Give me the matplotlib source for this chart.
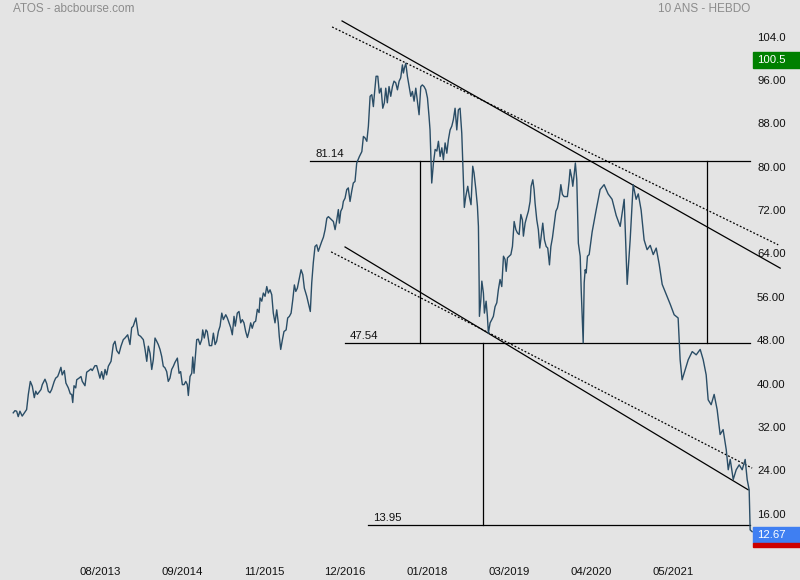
import matplotlib
matplotlib.use('Agg')
import matplotlib.pyplot as plt
import matplotlib.transforms as mtrans
from matplotlib.patches import Rectangle

# ATOS weekly close, 10 years (x = week number from the first bar)
week = [0.9, 2.1, 3.3, 4.4, 5.6, 7.2, 10.3, 11.5, 12.9, 14.3, 15.7, 16.7, 17.8, 19.2, 20.4, 21.3,
        23.2, 24.4, 25.5, 26.7, 27.9, 29.7, 30.7, 32.1, 33.0, 34.4, 35.3, 36.8, 37.9, 39.6, 41.0,
        42.0, 42.7, 43.6, 44.8, 45.5, 47.1, 48.5, 49.4, 51.3, 52.5, 54.1, 55.5, 56.4, 58.3, 59.5,
        60.6, 61.8, 63.0, 64.2, 65.4, 66.5, 67.7, 69.6, 71.2, 72.4, 73.6, 75.2, 76.6, 78.2, 79.4,
        81.3, 82.9, 84.1, 85.2, 87.1, 88.8, 90.4, 92.3, 93.5, 94.7, 95.8, 97.0, 98.2, 99.3, 100.5,
        101.7, 102.8, 104.0, 105.2, 106.3, 107.5, 108.7, 109.8, 111.0, 112.2, 113.4, 114.5, 116.2,
        117.4, 118.5, 119.7, 120.9, 122.1, 123.2, 123.9, 125.1, 126.3, 127.0, 127.9, 129.1, 129.8,
        130.9, 132.1, 133.3, 134.0, 135.1, 136.3, 137.2, 138.7, 140.3, 141.5, 142.7, 143.8, 145.0,
        146.2, 147.4, 148.5, 150.2, 151.3, 152.5, 153.7, 154.8, 156.0, 156.9, 158.3, 159.5, 160.7,
        161.8, 163.0, 164.2, 165.4, 166.5, 167.7, 168.8, 170.0, 171.2, 172.4, 173.6, 174.3, 175.5,
        176.6, 177.8, 179.0, 180.1, 181.3, 182.5, 183.6, 184.8, 186.0, 187.1, 187.8, 188.8, 190.0,
        191.1, 192.6, 193.7, 194.9, 196.1, 197.3, 198.4, 199.4, 200.5, 201.7, 203.1, 204.3, 205.4,
        207.1, 208.2, 209.6, 210.6, 211.7, 212.9, 214.1, 215.2, 216.4, 217.6, 218.8, 220.0, 221.2,
        222.3, 223.5, 224.7, 225.8, 227.0, 228.2, 229.3, 230.0, 231.0, 232.1, 232.8, 234.0, 235.2,
        236.3, 237.5, 238.7, 239.8, 241.0, 242.2, 244.1, 245.8, 246.9, 248.1, 249.3, 250.4, 251.6,
        252.8, 253.9, 254.6, 255.8, 257.0, 258.1, 259.3, 260.5, 261.6, 262.6, 263.7, 264.9, 266.1,
        267.3, 268.4, 269.6, 270.8, 272.0, 273.1, 274.3, 275.0, 275.7, 276.7, 277.8, 279.0, 280.2,
        281.3, 282.5, 283.7, 284.8, 286.0, 287.2, 288.3, 289.5, 290.7, 291.9, 293.0, 293.7, 294.4,
        294.9, 296.1, 297.3, 298.5, 299.6, 300.8, 302.0, 303.1, 304.3, 305.5, 306.6, 307.8, 309.0,
        310.1, 311.3, 312.5, 313.6, 314.8, 316.0, 317.1, 317.8, 318.8, 320.2, 321.3, 322.5, 323.7,
        324.6, 325.9, 327.0, 327.7, 328.2, 328.4, 329.4, 330.1, 331.2, 331.9, 333.1, 334.0, 334.7,
        335.9, 337.1, 338.2, 339.4, 340.6, 341.7, 342.9, 344.1, 345.3, 346.4, 347.2, 348.1, 349.3,
        350.5, 351.6, 352.8, 354.0, 355.1, 356.3, 357.5, 358.6, 359.3, 360.5, 361.7, 362.8, 364.0,
        364.7, 365.9, 366.8, 367.5, 368.7, 369.8, 370.8, 371.8, 372.9, 374.1, 375.3, 376.4, 377.6,
        378.6, 379.7, 380.9, 382.1, 383.2, 384.4, 385.6, 386.7, 387.9, 389.1, 390.2, 391.4, 392.1,
        393.3, 394.0, 395.1, 395.8, 396.8, 397.9, 399.2, 399.9, 400.6, 401.3, 402.0, 402.7, 403.4,
        404.3, 405.5, 407.6, 410.4, 413.2, 416.0, 418.8, 421.6, 424.5, 427.3, 430.1, 432.2, 434.3,
        436.4, 438.5, 440.0, 442.0, 444.1, 446.2, 448.4, 450.5, 452.6, 454.7, 456.8, 459.7, 462.5,
        465.2, 468.0, 469.4, 470.8, 472.9, 475.1, 477.9, 480.7, 483.5, 485.6, 487.7, 489.1, 491.2,
        493.3, 495.4, 497.5, 499.6, 501.8, 503.2, 504.6, 506.7, 508.8, 510.9, 513.0, 515.1, 516.5,
        517.9, 518.6, 520.0]
close = [34.6, 35.0, 34.9, 33.9, 34.9, 34.0, 35.2, 38.0, 40.4, 39.5, 37.4, 38.6, 38.0, 38.5, 38.9, 39.8,
         40.8, 40.0, 38.6, 38.3, 38.9, 40.4, 41.0, 41.3, 41.9, 43.0, 41.6, 42.4, 40.1, 39.2, 38.1,
         38.0, 36.5, 39.6, 39.2, 40.7, 41.0, 41.3, 40.4, 39.6, 42.1, 42.4, 42.7, 42.4, 43.3, 43.3,
         42.2, 41.0, 42.2, 40.8, 42.6, 41.6, 43.2, 44.1, 47.2, 47.8, 46.1, 45.5, 46.9, 48.1, 48.4,
         49.0, 47.2, 50.3, 50.6, 52.1, 49.0, 48.7, 48.1, 46.3, 44.1, 46.9, 45.6, 42.6, 44.4, 48.4,
         47.8, 47.2, 46.3, 45.0, 43.2, 42.9, 42.2, 40.4, 41.0, 42.6, 43.2, 43.9, 44.7,
         41.9, 42.2, 39.8, 39.8, 40.4, 39.8, 37.8, 41.3, 41.9, 44.9, 41.9, 45.9, 48.1,
         48.2, 47.2, 48.1, 49.9, 48.4, 49.9, 49.6, 47.0, 47.0, 49.3, 47.2, 47.8, 49.6,
         50.6, 53.0, 51.8, 52.7, 52.1, 51.2, 50.3, 49.0, 52.4, 50.6, 53.0, 53.3, 51.2,
         51.8, 51.2, 49.6, 48.5, 49.6, 51.2, 50.2, 51.3, 51.5, 53.7, 53.1, 55.8, 55.2,
         56.7, 56.1, 57.9, 56.7, 57.3, 56.4, 53.0, 51.2, 53.6, 51.2, 48.7, 46.3, 48.1,
         49.6, 49.9, 52.1, 52.4, 53.0, 55.5, 58.2, 57.0, 57.6, 59.2, 61.0, 60.1, 57.6,
         56.1, 54.9, 53.3, 58.6, 62.3, 65.3, 65.6, 64.4, 65.3, 66.2, 67.0, 68.4, 70.5,
         70.8, 70.5, 70.2, 69.9, 68.4, 70.2, 72.1, 69.6, 71.8, 72.4, 73.6, 74.2, 75.8,
         76.1, 73.6, 75.5, 77.0, 77.3, 80.7, 81.9, 82.8, 85.6, 85.3, 84.7, 87.5, 93.0,
         93.3, 91.1, 93.3, 96.7, 96.7, 93.6, 94.5, 90.8, 91.8, 94.5, 91.8, 94.8, 93.0,
         94.8, 95.8, 95.5, 94.2, 95.8, 96.4, 98.8, 97.3, 98.2, 99.1, 96.7, 94.8, 93.0,
         93.9, 92.1, 94.5, 92.1, 89.6, 94.8, 95.1, 94.8, 94.2, 92.7, 89.3, 86.8, 80.7,
         77.0, 80.7, 83.2, 82.9, 84.7, 81.9, 83.5, 81.3, 84.4, 82.5, 85.0, 86.8, 87.5,
         88.7, 90.8, 86.8, 90.5, 90.8, 86.2, 77.5, 72.5, 74.5, 76.4, 74.5, 73.0, 80.1,
         78.9, 75.8, 72.7, 69.0, 58.6, 52.4, 55.5, 58.9, 56.7, 53.0, 55.2, 52.4, 49.3,
         51.2, 51.8, 52.4, 54.2, 54.9, 57.3, 59.2, 57.9, 63.5, 62.9, 60.7, 63.2, 63.5,
         63.8, 65.3, 69.9, 68.4, 67.8, 67.5, 71.2, 70.2, 67.2, 69.6, 70.8, 71.8, 73.6,
         76.4, 77.6, 75.8, 73.3, 70.2, 68.4, 65.0, 67.2, 69.6, 66.5, 65.3, 65.0, 61.9,
         65.3, 66.9, 69.3, 71.8, 72.4, 73.9, 76.7, 74.9, 74.5, 74.5, 74.5, 77.3, 79.5,
         77.9, 76.4, 78.9, 80.7, 77.6, 65.9, 63.5, 57.3, 52.4, 47.5, 58.6, 61.0, 60.4,
         63.5, 63.8, 68.0, 72.0, 75.8, 76.7, 75.0, 74.0, 71.0, 69.0, 74.0, 58.3, 66.5,
         76.7, 74.0, 75.0, 72.0, 66.5, 64.7, 65.5, 63.8, 65.0, 62.0, 58.3, 56.4, 54.6,
         52.7, 52.1, 44.4, 40.7, 42.5, 44.4, 45.9, 45.3, 46.3, 44.4, 41.6, 37.0, 36.1,
         38.0, 35.2, 30.6, 31.5, 27.8, 24.1, 26.0, 22.3, 24.1, 25.0, 24.1, 26.0, 22.3,
         20.4, 13.0, 12.67]

yticks = [16, 24, 32, 40, 48, 56, 64, 72, 80, 88, 96, 104]
ytick_labels = ['16.00', '24.00', '32.00', '40.00', '48.00', '56.00', '64.00', '72.00',
                '80.00', '88.00', '96.00', '104.0']
xticks = [61.8, 119.5, 177.1, 234.0, 291.6, 349.3, 406.9, 464.5]
xtick_labels = ['08/2013', '09/2014', '11/2015', '12/2016', '01/2018', '03/2019', '04/2020', '05/2021']

# horizontal levels: value, start week
levels = [81.14, 47.54, 13.95]
level_start = [209.4, 234.0, 250.4]
level_end = 518.6
# channel lines (week, value) pairs
upper_solid = ([231.9, 539.7], [106.9, 61.3])
upper_dot = ([224.9, 538.3], [105.8, 65.6])
lower_solid = ([234.0, 517.2], [65.2, 20.4])
lower_dot = ([224.2, 520.0], [64.3, 24.4])
# vertical boxes: week, bottom, top
verticals = [(286.7, 47.54, 81.14), (488.4, 47.54, 81.14), (331.0, 13.95, 47.54)]

high_val = 100.5
last_val = 12.67

bg = '#e4e4e4'
plt.rcParams['font.family'] = ['Liberation Sans', 'DejaVu Sans']

fig = plt.figure(figsize=(8, 5.8), dpi=100, facecolor=bg)
ax = fig.add_axes([0, 32 / 580, 755 / 800, 548 / 580])
ax.set_facecolor(bg)
ax.set_xlim(-8.4, 522)
ax.set_ylim(9.66, 110.77)
for s in ax.spines.values():
    s.set_visible(False)

ax.plot(week, close, color='#2a4d66', lw=1.0, zorder=3)

for lv, st in zip(levels, level_start):
    ax.plot([st, level_end], [lv, lv], color='black', lw=0.9, zorder=2)
    ax.annotate('%.2f' % lv, xy=(st + 3.5, lv), xytext=(0, 1.5), textcoords='offset points',
                ha='left', va='bottom', fontsize=8.2, color='#111111')
for xv, y0, y1 in verticals:
    ax.plot([xv, xv], [y0, y1], color='black', lw=0.9, zorder=2)

for ln, ls in [(upper_solid, '-'), (lower_solid, '-'), (upper_dot, (0, (1.5, 1.5))), (lower_dot, (0, (1.5, 1.5)))]:
    ax.plot(ln[0], ln[1], color='black', lw=0.9, ls=ls, clip_on=False, zorder=2)

ax.yaxis.tick_right()
ax.set_yticks(yticks)
ax.set_yticklabels(ytick_labels)
ax.set_xticks(xticks)
ax.set_xticklabels(xtick_labels)
ax.tick_params(axis='y', length=0, pad=1.5, labelsize=8.2, labelcolor='#111111')
ax.tick_params(axis='x', length=0, pad=14, labelsize=8.2, labelcolor='#111111')

# price boxes on the right scale
tr = mtrans.blended_transform_factory(fig.transFigure, ax.transData)
bx = 753 / 800
h = 15.6 / 5.42
ax.add_patch(Rectangle((bx, high_val - 0.75 - h / 2), 1 - bx, h, transform=tr, color='#008000',
                       clip_on=False, zorder=5))
ax.text(757 / 800, high_val - 0.75, '%.1f' % high_val, transform=tr, color='white', fontsize=8.2,
        va='center', ha='left', zorder=6)
ax.add_patch(Rectangle((bx, last_val - 0.6 - h / 2), 1 - bx, h, transform=tr, color='#3f7ff2',
                       clip_on=False, zorder=5))
ax.add_patch(Rectangle((bx, last_val - 0.6 - h / 2 - 0.75), 1 - bx, 0.75, transform=tr,
                       color='#cc0000', clip_on=False, zorder=5))
ax.text(757 / 800, last_val - 0.6, '%.2f' % last_val, transform=tr, color='white', fontsize=8.2,
        va='center', ha='left', zorder=6)

fig.text(13 / 800, 1 - 9.5 / 580, 'ATOS - abcbourse.com', color='#8c8c8c', fontsize=8.5, va='center')
fig.text(750 / 800, 1 - 9.5 / 580, '10 ANS - HEBDO', color='#8c8c8c', fontsize=8.5, va='center', ha='right')

fig.savefig('out.png', dpi=100, facecolor=bg)
